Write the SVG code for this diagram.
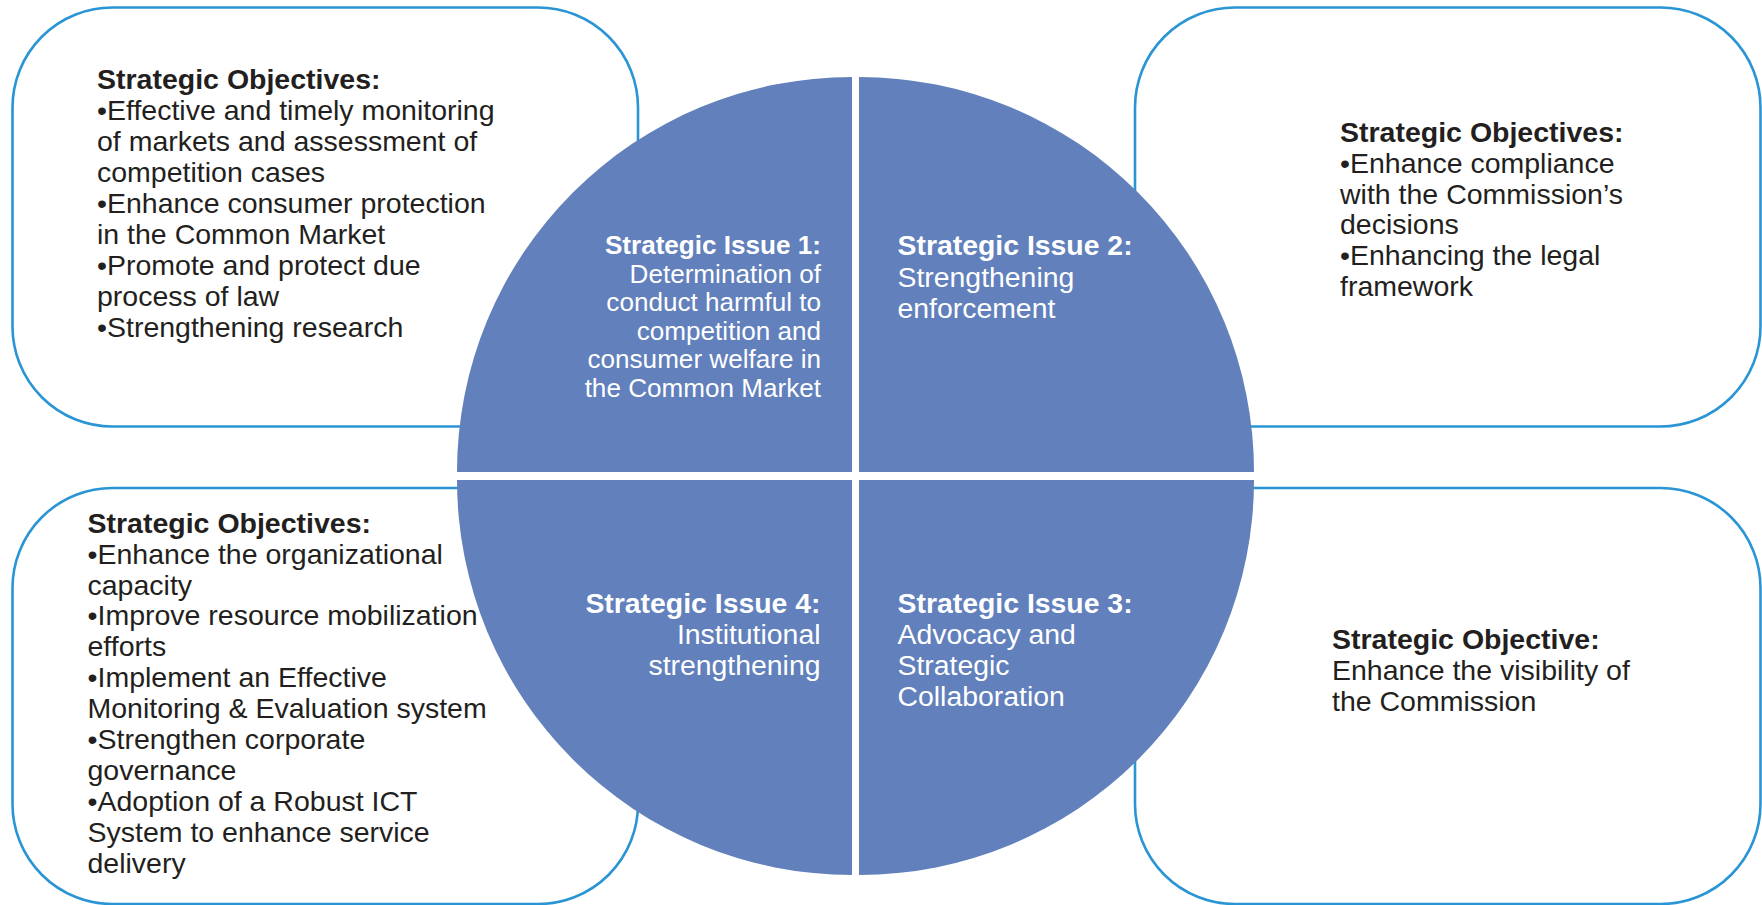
<svg xmlns="http://www.w3.org/2000/svg" width="1762" height="905" viewBox="0 0 1762 905">
  <style>
    .box { fill: #ffffff; stroke: #2a95d4; stroke-width: 2.6; }
    .quad { fill: #6180bc; }
    .obj { font-family: "Liberation Sans", Arial, sans-serif; font-size: 28.5px; fill: #231f20; }
    .issue { font-family: "Liberation Sans", Arial, sans-serif; font-size: 28.4px; fill: #ffffff; }
    .issue.small { font-size: 26.1px; }
    .b { font-weight: bold; }
  </style>
  <rect width="1762" height="905" fill="#ffffff"/>

  <!-- Objective panels, drawn behind the circle -->
  <g id="objectives-1">
    <rect class="box" x="12.5" y="7.5" width="625.5" height="419" rx="100" ry="100"/>
    <text class="obj">
      <tspan class="b" x="97" y="89.3">Strategic Objectives:</tspan>
      <tspan x="97" y="120.2">•Effective and timely monitoring</tspan>
      <tspan x="97" y="151.1">of markets and assessment of</tspan>
      <tspan x="97" y="182">competition cases</tspan>
      <tspan x="97" y="212.9">•Enhance consumer protection</tspan>
      <tspan x="97" y="243.8">in the Common Market</tspan>
      <tspan x="97" y="274.7">•Promote and protect due</tspan>
      <tspan x="97" y="305.6">process of law</tspan>
      <tspan x="97" y="336.5">•Strengthening research</tspan>
    </text>
  </g>

  <g id="objectives-2">
    <rect class="box" x="1135" y="7.5" width="625.5" height="419" rx="100" ry="100"/>
    <text class="obj">
      <tspan class="b" x="1340" y="141.7">Strategic Objectives:</tspan>
      <tspan x="1340" y="172.6">•Enhance compliance</tspan>
      <tspan x="1340" y="203.5">with the Commission’s</tspan>
      <tspan x="1340" y="234.4">decisions</tspan>
      <tspan x="1340" y="265.3">•Enhancing the legal</tspan>
      <tspan x="1340" y="296.2">framework</tspan>
    </text>
  </g>

  <g id="objectives-4">
    <rect class="box" x="12.5" y="488" width="625.5" height="416" rx="100" ry="100"/>
    <text class="obj">
      <tspan class="b" x="87.5" y="532.7">Strategic Objectives:</tspan>
      <tspan x="87.5" y="563.6">•Enhance the organizational</tspan>
      <tspan x="87.5" y="594.5">capacity</tspan>
      <tspan x="87.5" y="625.4">•Improve resource mobilization</tspan>
      <tspan x="87.5" y="656.3">efforts</tspan>
      <tspan x="87.5" y="687.2">•Implement an Effective</tspan>
      <tspan x="87.5" y="718.1">Monitoring &amp; Evaluation system</tspan>
      <tspan x="87.5" y="749">•Strengthen corporate</tspan>
      <tspan x="87.5" y="779.9">governance</tspan>
      <tspan x="87.5" y="810.8">•Adoption of a Robust ICT</tspan>
      <tspan x="87.5" y="841.7">System to enhance service</tspan>
      <tspan x="87.5" y="872.6">delivery</tspan>
    </text>
  </g>

  <g id="objectives-3">
    <rect class="box" x="1135" y="488" width="625.5" height="416" rx="100" ry="100"/>
    <text class="obj">
      <tspan class="b" x="1332" y="649">Strategic Objective:</tspan>
      <tspan x="1332" y="680">Enhance the visibility of</tspan>
      <tspan x="1332" y="711">the Commission</tspan>
    </text>
  </g>

  <!-- Central circle split into four quarter sectors; right-aligned lines are separate text elements so no trailing space shifts them -->
  <g id="issue-1">
    <path class="quad" d="M852,472 L457,472 A395,395 0 0 1 852,77 Z"/>
    <g class="issue small" text-anchor="end">
      <text class="b" x="821" y="254">Strategic Issue 1:</text>
      <text x="821" y="282.6">Determination of</text>
      <text x="821" y="311.1">conduct harmful to</text>
      <text x="821" y="339.7">competition and</text>
      <text x="821" y="368.2">consumer welfare in</text>
      <text x="821" y="396.8">the Common Market</text>
    </g>
  </g>

  <g id="issue-2">
    <path class="quad" d="M859,472 L859,77 A395,395 0 0 1 1254,472 Z"/>
    <text class="issue">
      <tspan class="b" x="897.5" y="255">Strategic Issue 2:</tspan>
      <tspan x="897.5" y="286.5">Strengthening</tspan>
      <tspan x="897.5" y="318">enforcement</tspan>
    </text>
  </g>

  <g id="issue-3">
    <path class="quad" d="M859,480 L1254,480 A395,395 0 0 1 859,875 Z"/>
    <text class="issue">
      <tspan class="b" x="897.5" y="613.3">Strategic Issue 3:</tspan>
      <tspan x="897.5" y="644.2">Advocacy and</tspan>
      <tspan x="897.5" y="675.1">Strategic</tspan>
      <tspan x="897.5" y="706">Collaboration</tspan>
    </text>
  </g>

  <g id="issue-4">
    <path class="quad" d="M852,480 L852,875 A395,395 0 0 1 457,480 Z"/>
    <g class="issue" text-anchor="end">
      <text class="b" x="820.5" y="613.3">Strategic Issue 4:</text>
      <text x="820.5" y="644.2">Institutional</text>
      <text x="820.5" y="675.1">strengthening</text>
    </g>
  </g>
</svg>
